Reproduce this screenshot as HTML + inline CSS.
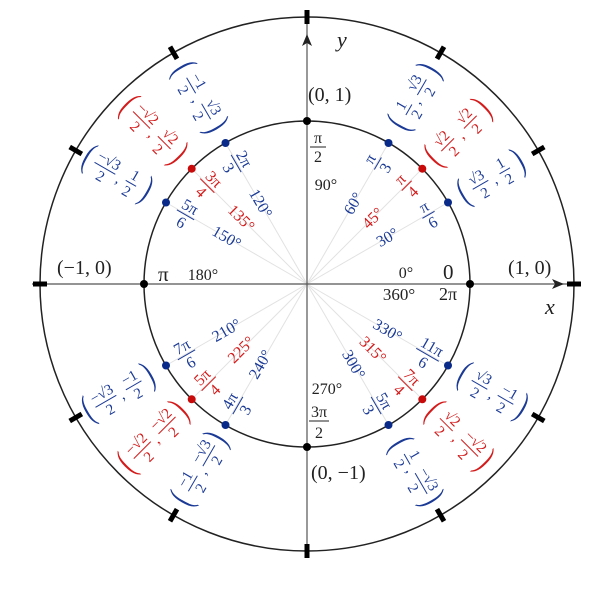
<!DOCTYPE html>
<html><head><meta charset="utf-8"><style>
html,body{margin:0;padding:0;background:#fff}
svg{display:block}
text{font-family:"Liberation Serif","DejaVu Serif",serif}
.b{fill:#1b3a96}.r{fill:#d41a1a}.k{fill:#222}
.fb line{stroke:#1b3a96;stroke-width:1}
.fr line{stroke:#d41a1a;stroke-width:1}
.p{font-size:23px;transform:scaleY(1.6)}
</style></head><body>
<svg width="600" height="600" viewBox="0 0 600 600" xmlns="http://www.w3.org/2000/svg">
<g transform="translate(307,284)">
<g stroke="#e2e2e2" stroke-width="1">
<line x1="0" y1="0" x2="141" y2="-81.5"/><line x1="0" y1="0" x2="115.3" y2="-115.3"/><line x1="0" y1="0" x2="81.5" y2="-141"/>
<line x1="0" y1="0" x2="-141" y2="-81.5"/><line x1="0" y1="0" x2="-115.3" y2="-115.3"/><line x1="0" y1="0" x2="-81.5" y2="-141"/>
<line x1="0" y1="0" x2="-141" y2="81.5"/><line x1="0" y1="0" x2="-115.3" y2="115.3"/><line x1="0" y1="0" x2="-81.5" y2="141"/>
<line x1="0" y1="0" x2="141" y2="81.5"/><line x1="0" y1="0" x2="115.3" y2="115.3"/><line x1="0" y1="0" x2="81.5" y2="141"/>
</g>
<g stroke="#555" stroke-width="1.2" fill="none">
<line x1="-275" y1="0" x2="272" y2="0"/>
<line x1="0" y1="272" x2="0" y2="-272"/>
</g>
<path d="M257,0 L245,-5 L248,0 L245,5Z" fill="#222"/>
<path d="M0,-250 L-5,-238 L0,-241 L5,-238Z" fill="#222"/>
<circle r="163" fill="none" stroke="#222" stroke-width="1.5"/>
<circle r="267" fill="none" stroke="#222" stroke-width="1.5"/>
<g stroke="#000" stroke-width="5">
<line x1="260" y1="0" x2="274" y2="0" transform="rotate(0)"/>
<line x1="260" y1="0" x2="274" y2="0" transform="rotate(30)"/>
<line x1="260" y1="0" x2="274" y2="0" transform="rotate(60)"/>
<line x1="260" y1="0" x2="274" y2="0" transform="rotate(90)"/>
<line x1="260" y1="0" x2="274" y2="0" transform="rotate(120)"/>
<line x1="260" y1="0" x2="274" y2="0" transform="rotate(150)"/>
<line x1="260" y1="0" x2="274" y2="0" transform="rotate(180)"/>
<line x1="260" y1="0" x2="274" y2="0" transform="rotate(210)"/>
<line x1="260" y1="0" x2="274" y2="0" transform="rotate(240)"/>
<line x1="260" y1="0" x2="274" y2="0" transform="rotate(270)"/>
<line x1="260" y1="0" x2="274" y2="0" transform="rotate(300)"/>
<line x1="260" y1="0" x2="274" y2="0" transform="rotate(330)"/>
</g>
<g fill="#000"><circle cx="163" cy="0" r="4"/><circle cx="-163" cy="0" r="4"/><circle cx="0" cy="163" r="4"/><circle cx="0" cy="-163" r="4"/></g>
<g fill="#0a2a8a">
<circle cx="141" cy="-81.5" r="4"/><circle cx="81.5" cy="-141" r="4"/>
<circle cx="-141" cy="-81.5" r="4"/><circle cx="-81.5" cy="-141" r="4"/>
<circle cx="-141" cy="81.5" r="4"/><circle cx="-81.5" cy="141" r="4"/>
<circle cx="141" cy="81.5" r="4"/><circle cx="81.5" cy="141" r="4"/>
</g>
<g fill="#c80a0a">
<circle cx="115.3" cy="-115.3" r="4"/><circle cx="-115.3" cy="-115.3" r="4"/>
<circle cx="-115.3" cy="115.3" r="4"/><circle cx="115.3" cy="115.3" r="4"/>
</g>

<g class="k" font-size="20">
<text x="30" y="-237" font-style="italic" font-size="22">y</text>
<text x="238" y="30" font-style="italic" font-size="22">x</text>
<text x="1" y="-183">(0, 1)</text>
<text x="201" y="-10">(1, 0)</text>
<text x="-250" y="-10">(−1, 0)</text>
<text x="4" y="195">(0, −1)</text>
<text x="136" y="-5" font-size="21">0</text>
<text x="-149" y="-3" font-size="21">π</text>
</g>
<g class="k" font-size="16" text-anchor="middle">
<text x="99" y="-6">0°</text>
<text x="-104" y="-4">180°</text>
<text x="19" y="-94">90°</text>
<text x="20" y="110">270°</text>
<text x="92" y="16" font-family="'Liberation Sans',sans-serif" font-size="17">360°</text>
<text x="141" y="16" font-size="18">2π</text>
<text x="11" y="-141">π</text><line x1="3" y1="-137" x2="19" y2="-137" stroke="#222"/><text x="11" y="-122">2</text>
<text x="12" y="133">3π</text><line x1="2" y1="137" x2="22" y2="137" stroke="#222"/><text x="12" y="154">2</text>
</g>

<g font-size="16" text-anchor="middle">
<text class="b" transform="translate(80.5,-46.5) rotate(-30)" y="5">30°</text>
<text class="r" transform="translate(65.8,-65.8) rotate(-45)" y="5">45°</text>
<text class="b" transform="translate(46.5,-80.5) rotate(-60)" y="5">60°</text>
<text class="b" transform="translate(-46.5,-80.5) rotate(60)" y="5">120°</text>
<text class="r" transform="translate(-65.8,-65.8) rotate(45)" y="5">135°</text>
<text class="b" transform="translate(-80.5,-46.5) rotate(30)" y="5">150°</text>
<text class="b" transform="translate(-80.5,46.5) rotate(-30)" y="5">210°</text>
<text class="r" transform="translate(-65.8,65.8) rotate(-45)" y="5">225°</text>
<text class="b" transform="translate(-46.5,80.5) rotate(-60)" y="5">240°</text>
<text class="b" transform="translate(46.5,80.5) rotate(60)" y="5">300°</text>
<text class="r" transform="translate(65.8,65.8) rotate(45)" y="5">315°</text>
<text class="b" transform="translate(80.5,46.5) rotate(30)" y="5">330°</text>
</g>

<g font-size="16" text-anchor="middle">
<g class="b fb" transform="translate(121,-70) rotate(-30)"><text y="-3">π</text><line x1="-7" x2="7" y1="1" y2="1"/><text y="15">6</text></g>
<g class="r fr" transform="translate(99,-99) rotate(-45)"><text y="-3">π</text><line x1="-7" x2="7" y1="1" y2="1"/><text y="15">4</text></g>
<g class="b fb" transform="translate(70,-121) rotate(-60)"><text y="-3">π</text><line x1="-7" x2="7" y1="1" y2="1"/><text y="15">3</text></g>
<g class="b fb" transform="translate(-70,-121) rotate(60)"><text y="-3">2π</text><line x1="-10" x2="10" y1="1" y2="1"/><text y="15">3</text></g>
<g class="r fr" transform="translate(-99,-99) rotate(45)"><text y="-3">3π</text><line x1="-10" x2="10" y1="1" y2="1"/><text y="15">4</text></g>
<g class="b fb" transform="translate(-121,-70) rotate(30)"><text y="-3">5π</text><line x1="-10" x2="10" y1="1" y2="1"/><text y="15">6</text></g>
<g class="b fb" transform="translate(-121,70) rotate(-30)"><text y="-3">7π</text><line x1="-10" x2="10" y1="1" y2="1"/><text y="15">6</text></g>
<g class="r fr" transform="translate(-99,99) rotate(-45)"><text y="-3">5π</text><line x1="-10" x2="10" y1="1" y2="1"/><text y="15">4</text></g>
<g class="b fb" transform="translate(-70,121) rotate(-60)"><text y="-3">4π</text><line x1="-10" x2="10" y1="1" y2="1"/><text y="15">3</text></g>
<g class="b fb" transform="translate(70,121) rotate(60)"><text y="-3">5π</text><line x1="-10" x2="10" y1="1" y2="1"/><text y="15">3</text></g>
<g class="r fr" transform="translate(99,99) rotate(45)"><text y="-3">7π</text><line x1="-10" x2="10" y1="1" y2="1"/><text y="15">4</text></g>
<g class="b fb" transform="translate(121,70) rotate(30)"><text y="-3">11π</text><line x1="-13" x2="13" y1="1" y2="1"/><text y="15">6</text></g>
</g>

<g font-size="15" text-anchor="middle">
<g class="b fb" transform="translate(186,-107.5) rotate(-30)"><text class="p" x="-34" y="6">(</text><text x="-15" y="-3">√3</text><line x1="-24" x2="-6" y1="1" y2="1"/><text x="-15" y="15">2</text><text x="0" y="8">,</text><text x="13" y="-3">1</text><line x1="7" x2="19" y1="1" y2="1"/><text x="13" y="15">2</text><text class="p" x="30" y="6">)</text></g>
<g class="r fr" transform="translate(152,-152) rotate(-45)"><text class="p" x="-36" y="6">(</text><text x="-17" y="-3">√2</text><line x1="-26" x2="-8" y1="1" y2="1"/><text x="-17" y="15">2</text><text x="-1" y="8">,</text><text x="15" y="-3">√2</text><line x1="6" x2="24" y1="1" y2="1"/><text x="15" y="15">2</text><text class="p" x="34" y="6">)</text></g>
<g class="b fb" transform="translate(107.5,-186) rotate(-60)"><text class="p" x="-30" y="6">(</text><text x="-13" y="-3">1</text><line x1="-19" x2="-7" y1="1" y2="1"/><text x="-13" y="15">2</text><text x="-2" y="8">,</text><text x="13" y="-3">√3</text><line x1="4" x2="22" y1="1" y2="1"/><text x="13" y="15">2</text><text class="p" x="32" y="6">)</text></g>

<g class="b fb" transform="translate(-107.5,-186) rotate(60)"><text class="p" x="-34" y="6">(</text><text x="-15" y="-3">−1</text><line x1="-24" x2="-6" y1="1" y2="1"/><text x="-15" y="15">2</text><text x="0" y="8">,</text><text x="15" y="-3">√3</text><line x1="6" x2="24" y1="1" y2="1"/><text x="15" y="15">2</text><text class="p" x="33" y="6">)</text></g>
<g class="r fr" transform="translate(-152,-152) rotate(45)"><text class="p" x="-38" y="6">(</text><text x="-18" y="-3">−√2</text><line x1="-30" x2="-6" y1="1" y2="1"/><text x="-18" y="15">2</text><text x="-1" y="8">,</text><text x="14" y="-3">√2</text><line x1="5" x2="23" y1="1" y2="1"/><text x="14" y="15">2</text><text class="p" x="33" y="6">)</text></g>
<g class="b fb" transform="translate(-186,-107.5) rotate(30)"><text class="p" x="-38" y="6">(</text><text x="-18" y="-3">−√3</text><line x1="-30" x2="-6" y1="1" y2="1"/><text x="-18" y="15">2</text><text x="-1" y="8">,</text><text x="12" y="-3">1</text><line x1="6" x2="18" y1="1" y2="1"/><text x="12" y="15">2</text><text class="p" x="29" y="6">)</text></g>

<g class="b fb" transform="translate(-186,107.5) rotate(-30)"><text class="p" x="-38" y="6">(</text><text x="-18" y="-3">−√3</text><line x1="-30" x2="-6" y1="1" y2="1"/><text x="-18" y="15">2</text><text x="-1" y="8">,</text><text x="14" y="-3">−1</text><line x1="5" x2="23" y1="1" y2="1"/><text x="14" y="15">2</text><text class="p" x="32" y="6">)</text></g>
<g class="r fr" transform="translate(-152,152) rotate(-45)"><text class="p" x="-40" y="6">(</text><text x="-19" y="-3">−√2</text><line x1="-31" x2="-7" y1="1" y2="1"/><text x="-19" y="15">2</text><text x="-2" y="8">,</text><text x="16" y="-3">−√2</text><line x1="4" x2="28" y1="1" y2="1"/><text x="16" y="15">2</text><text class="p" x="36" y="6">)</text></g>
<g class="b fb" transform="translate(-107.5,186) rotate(-60)"><text class="p" x="-34" y="6">(</text><text x="-15" y="-3">−1</text><line x1="-24" x2="-6" y1="1" y2="1"/><text x="-15" y="15">2</text><text x="0" y="8">,</text><text x="17" y="-3">−√3</text><line x1="5" x2="29" y1="1" y2="1"/><text x="17" y="15">2</text><text class="p" x="36" y="6">)</text></g>

<g class="b fb" transform="translate(107.5,186) rotate(60)"><text class="p" x="-30" y="6">(</text><text x="-13" y="-3">1</text><line x1="-19" x2="-7" y1="1" y2="1"/><text x="-13" y="15">2</text><text x="-2" y="8">,</text><text x="15" y="-3">−√3</text><line x1="3" x2="27" y1="1" y2="1"/><text x="15" y="15">2</text><text class="p" x="34" y="6">)</text></g>
<g class="r fr" transform="translate(152,152) rotate(45)"><text class="p" x="-36" y="6">(</text><text x="-17" y="-3">√2</text><line x1="-26" x2="-8" y1="1" y2="1"/><text x="-17" y="15">2</text><text x="-1" y="8">,</text><text x="16" y="-3">−√2</text><line x1="4" x2="28" y1="1" y2="1"/><text x="16" y="15">2</text><text class="p" x="36" y="6">)</text></g>
<g class="b fb" transform="translate(186,107.5) rotate(30)"><text class="p" x="-34" y="6">(</text><text x="-15" y="-3">√3</text><line x1="-24" x2="-6" y1="1" y2="1"/><text x="-15" y="15">2</text><text x="0" y="8">,</text><text x="15" y="-3">−1</text><line x1="6" x2="24" y1="1" y2="1"/><text x="15" y="15">2</text><text class="p" x="33" y="6">)</text></g>
</g>
</g>
</svg>
</body></html>
